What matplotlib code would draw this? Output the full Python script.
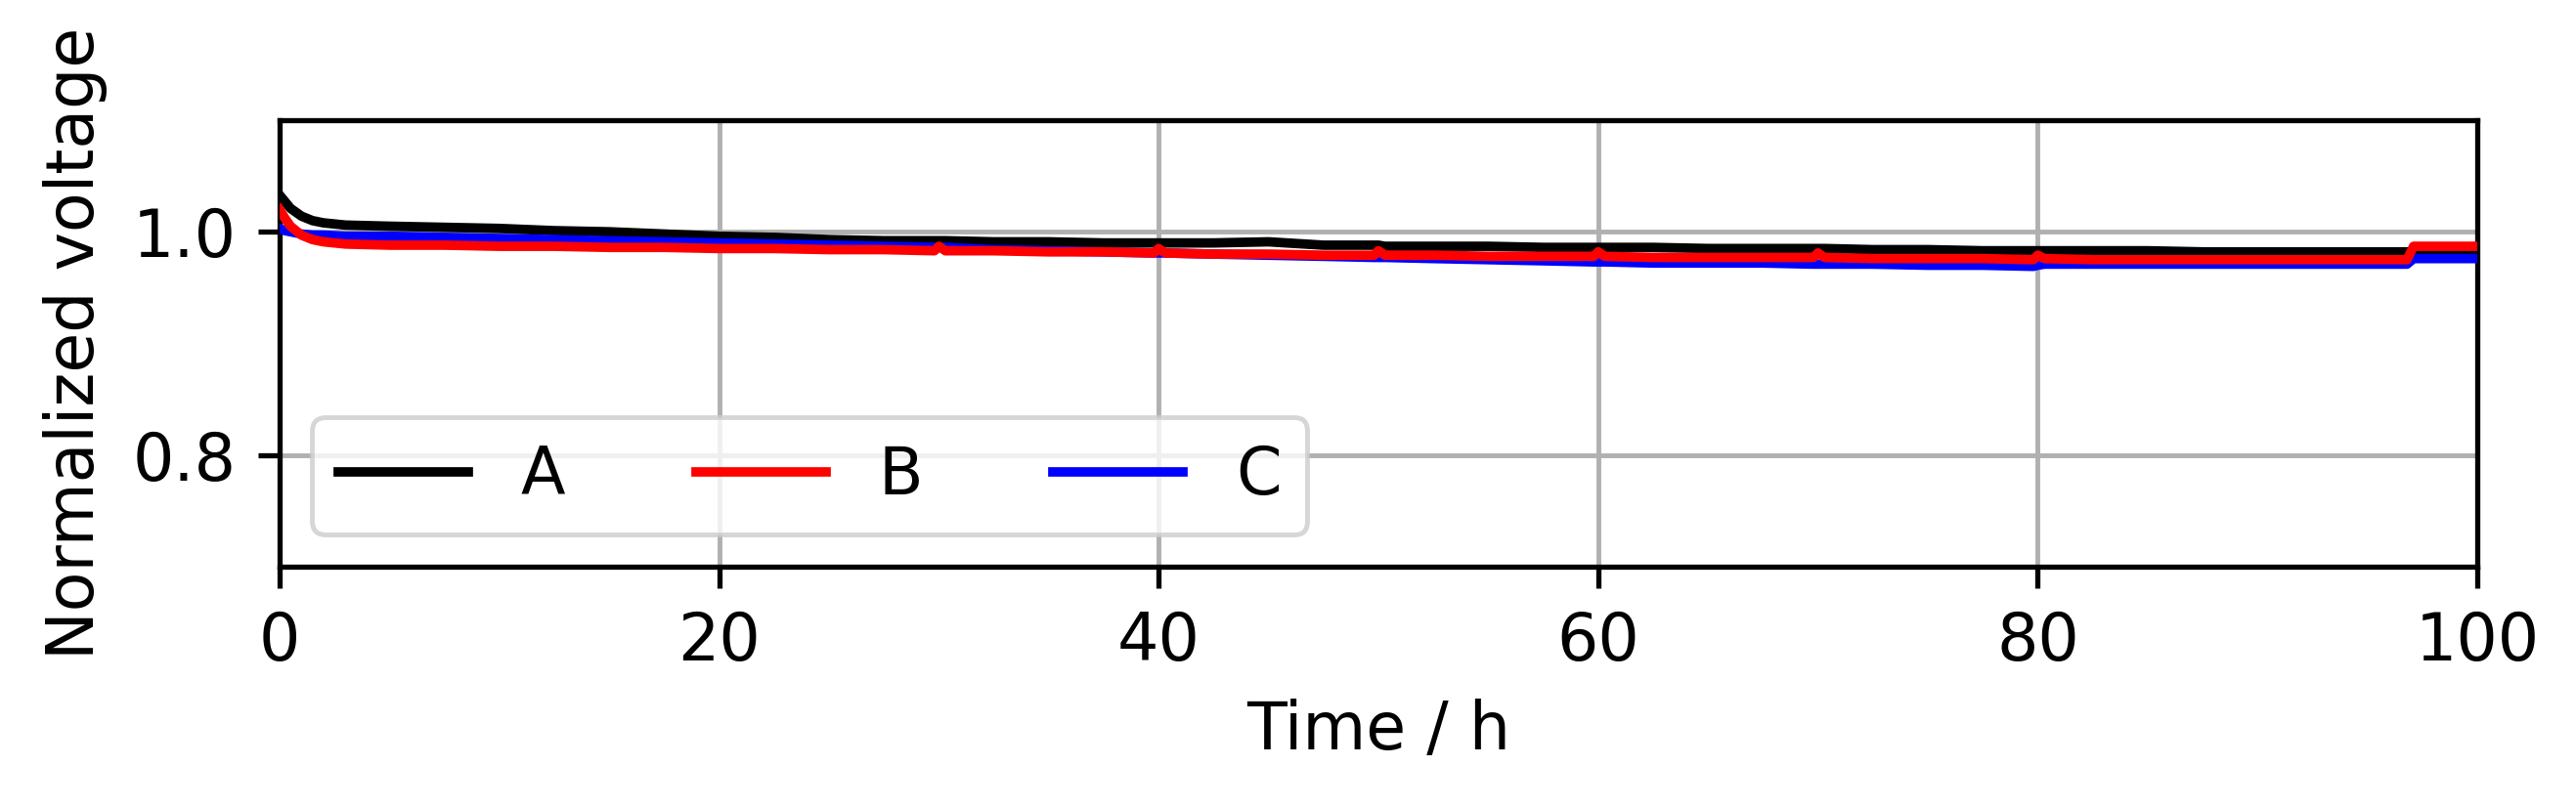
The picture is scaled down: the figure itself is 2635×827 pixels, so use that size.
import matplotlib
matplotlib.use("Agg")
import matplotlib.pyplot as plt

# Time grid (h)
time_h = [0, 0.25, 0.5, 1, 1.5, 2, 3,
          5, 7.5, 10, 12.5, 15, 17.5, 20, 22.5, 25, 27.5,
          29.8, 30, 30.3,
          32.5, 35, 37.5,
          39.8, 40, 40.3,
          42.5, 45, 47.5,
          49.8, 50, 50.3,
          52.5, 55, 57.5,
          59.8, 60, 60.3,
          62.5, 65, 67.5,
          69.8, 70, 70.3,
          72.5, 75, 77.5,
          79.8, 80, 80.3,
          82.5, 85, 87.5, 90, 92.5, 95,
          96.8, 97.1, 98.5, 100]

series_a = [1.033, 1.027, 1.021, 1.014, 1.010, 1.008, 1.006,
            1.005, 1.004, 1.003, 1.001, 1.000, 0.998, 0.996, 0.995, 0.993, 0.992,
            0.992, 0.992, 0.992,
            0.991, 0.991, 0.990,
            0.990, 0.990, 0.990,
            0.990, 0.991, 0.988,
            0.988, 0.988, 0.987,
            0.987, 0.987, 0.986,
            0.986, 0.986, 0.986,
            0.986, 0.985, 0.985,
            0.985, 0.985, 0.985,
            0.984, 0.984, 0.983,
            0.983, 0.983, 0.983,
            0.983, 0.983, 0.982, 0.982, 0.982, 0.982,
            0.982, 0.982, 0.981, 0.981]

series_b = [1.020, 1.012, 1.005, 0.997, 0.993, 0.991, 0.989,
            0.988, 0.988, 0.987, 0.987, 0.986, 0.986, 0.985, 0.985, 0.984, 0.984,
            0.983, 0.987, 0.983,
            0.983, 0.982, 0.982,
            0.981, 0.985, 0.981,
            0.980, 0.980, 0.979,
            0.979, 0.983, 0.979,
            0.979, 0.978, 0.978,
            0.978, 0.982, 0.978,
            0.977, 0.977, 0.977,
            0.977, 0.981, 0.977,
            0.976, 0.976, 0.976,
            0.975, 0.979, 0.976,
            0.975, 0.975, 0.975, 0.975, 0.975, 0.975,
            0.975, 0.987, 0.987, 0.987]

series_c = [1.003, 1.001, 1.000, 0.998, 0.997, 0.997, 0.996,
            0.996, 0.995, 0.994, 0.993, 0.992, 0.991, 0.990, 0.989, 0.988, 0.987,
            0.986, 0.986, 0.986,
            0.984, 0.983, 0.982,
            0.981, 0.981, 0.981,
            0.980, 0.979, 0.978,
            0.977, 0.977, 0.977,
            0.976, 0.975, 0.974,
            0.973, 0.973, 0.973,
            0.972, 0.972, 0.972,
            0.971, 0.971, 0.971,
            0.971, 0.970, 0.970,
            0.969, 0.970, 0.971,
            0.971, 0.971, 0.971, 0.971, 0.971, 0.971,
            0.971, 0.976, 0.976, 0.976]

labels = ["A", "B", "C"]
colors = ["black", "red", "blue"]

x_ticks = [0, 20, 40, 60, 80, 100]
y_ticks = [0.8, 1.0]
y_ticklabels = ["0.8", "1.0"]

fs = 48
plt.rcParams['font.family'] = ['DejaVu Sans']

fig = plt.figure(figsize=(26.35, 8.27), dpi=100)
ax = fig.add_axes([0.1085, 0.2987, 0.8532, 0.5526])

lw = 7
la, = ax.plot(time_h, series_a, color=colors[0], lw=lw, label=labels[0], zorder=3)
lc, = ax.plot(time_h, series_c, color=colors[2], lw=lw, label=labels[2], zorder=3)
lb, = ax.plot(time_h, series_b, color=colors[1], lw=lw, label=labels[1], zorder=4)

ax.set_xlim(0, 100)
ax.set_ylim(0.7, 1.1)
ax.set_xticks(x_ticks)
ax.set_yticks(y_ticks)
ax.set_yticklabels(y_ticklabels)
ax.grid(True, color="#b0b0b0", lw=3.5)
ax.set_axisbelow(True)
for s in ax.spines.values():
    s.set_linewidth(3.8)
ax.tick_params(axis='both', labelsize=fs, length=16, width=3.8, pad=16)

ax.set_xlabel("Time / h", fontsize=fs, labelpad=18)
ax.set_ylabel("Normalized voltage", fontsize=fs, labelpad=18)

leg = ax.legend([la, lb, lc], labels, loc="lower left", ncol=3, fontsize=fs,
                handlelength=2.0, columnspacing=2.0, handletextpad=0.8,
                borderaxespad=0.5, fancybox=True, framealpha=0.8)
leg.get_frame().set_linewidth(3.5)
leg.get_frame().set_edgecolor("0.8")
for h in leg.get_lines():
    h.set_linewidth(lw)

fig.savefig("out.png", dpi=100)
